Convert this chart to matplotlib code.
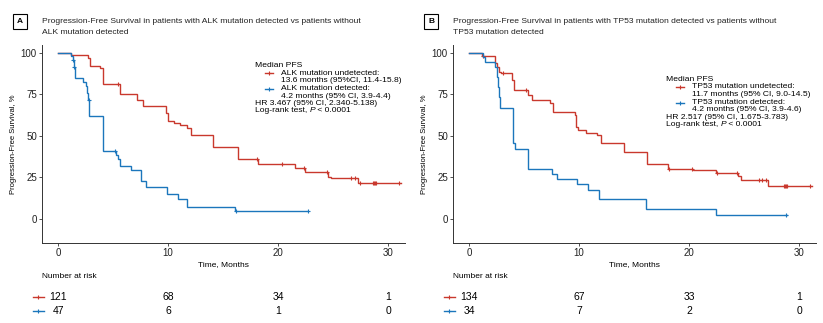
import numpy as np
import matplotlib.pyplot as plt

plt.rcParams['font.family'] = ['Liberation Sans', 'DejaVu Sans']

RED = '#C9382D'
BLUE = '#1B76BC'

W, H = 823, 323

# ---- panel A: ALK ----
alk_neg_t = [1.2, 2.7, 2.9, 3.8, 4.1, 5.6, 7.2, 7.7, 9.8, 10.0, 10.5, 11.1, 11.7, 12.1,
             14.1, 16.3, 18.2, 21.5, 22.4, 24.5, 24.8, 27.2]
alk_neg_s = [98.3, 96.5, 91.8, 90.6, 81.3, 75.0, 71.6, 67.8, 63.6, 58.7, 57.5, 56.5, 54.5, 50.5,
             43.5, 35.9, 32.9, 30.5, 28.1, 25.4, 24.5, 21.4]
alk_neg_cens = [5.45, 18.1, 20.3, 22.3, 24.4, 26.6, 27.0, 27.4, 28.6, 28.7, 28.8, 28.9, 31.0]
alk_neg_end = 31.1

alk_pos_t = [1.2, 1.35, 1.42, 1.5, 2.3, 2.5, 2.65, 2.75, 2.85, 4.06, 5.3, 5.45, 5.66, 6.63,
             7.55, 8.0, 9.9, 10.85, 11.7, 16.1]
alk_pos_s = [97.9, 95.7, 91.4, 84.6, 82.4, 80.2, 75.8, 71.4, 62.1, 41.1, 38.7, 35.9, 31.9, 29.3,
             22.9, 19.4, 14.8, 11.8, 7.0, 4.8]
alk_pos_cens = [1.38, 1.46, 2.8, 5.2, 16.15, 22.7]
alk_pos_end = 22.7

alk_risk_neg = [121, 68, 34, 1]
alk_risk_pos = [47, 6, 1, 0]

# ---- panel B: TP53 ----
tp53_neg_t = [1.15, 2.36, 2.5, 2.7, 2.9, 3.9, 4.05, 5.4, 5.7, 7.35, 7.65, 9.6, 9.75, 9.85,
              10.6, 11.6, 11.97, 14.1, 16.2, 18.1, 20.3, 22.45, 24.4, 24.7, 27.1]
tp53_neg_s = [98.0, 94.0, 91.6, 88.6, 87.6, 83.6, 77.6, 74.6, 71.6, 69.9, 64.5, 62.5, 55.5, 53.5,
              51.9, 50.5, 45.5, 40.0, 33.0, 30.0, 29.2, 27.9, 25.9, 23.4, 19.8]
tp53_neg_cens = [1.25, 3.1, 5.2, 18.15, 20.2, 22.5, 24.3, 26.3, 26.6, 27.0, 28.6, 28.7, 28.8,
                 28.9, 31.0]
tp53_neg_end = 31.1

tp53_pos_t = [1.3, 1.45, 2.4, 2.5, 2.6, 2.7, 2.8, 3.96, 4.2, 5.4, 7.5, 7.95, 9.76, 10.8, 11.8,
              16.05, 22.45]
tp53_pos_s = [97.1, 94.1, 91.2, 85.3, 79.4, 73.5, 66.5, 45.5, 41.9, 29.9, 27.1, 23.9, 21.0, 17.4,
              11.8, 5.8, 2.4]
tp53_pos_cens = [28.8]
tp53_pos_end = 28.9

tp53_risk_neg = [134, 67, 33, 1]
tp53_risk_pos = [34, 7, 2, 0]

risk_times = [0, 10, 20, 30]


def fig_xy(px, py):
    return px / W, 1 - py / H


def km(ax, t, s, cens, end, color):
    tt = np.r_[0, t, end]
    ss = np.r_[100, s, s[-1]]
    ax.step(tt, ss, where='post', color=color, lw=1.0, solid_joinstyle='miter')
    idx = np.searchsorted(tt, cens, side='right') - 1
    ax.plot(cens, ss[idx], ls='none', marker='+', ms=3.5, mew=0.8, color=color)


def panel(left_px, letter, title, neg, pos, risk_neg, risk_pos, legend_txt, leg_top):
    # main axes
    x0, y0 = fig_xy(left_px, 243.3)
    ax = fig.add_axes([x0, y0, 363.3 / W, 198.3 / H])
    km(ax, *neg, RED)
    km(ax, *pos, BLUE)
    ax.set_xlim(-1.48, 31.5)
    ax.set_ylim(-14.6, 104.6)
    ax.set_xticks([0, 10, 20, 30])
    ax.set_yticks([0, 25, 50, 75, 100])
    for sp in ['top', 'right']:
        ax.spines[sp].set_visible(False)
    for sp in ['left', 'bottom']:
        ax.spines[sp].set_linewidth(0.7)
        ax.spines[sp].set_color('#333333')
    ax.tick_params(labelsize=7, length=2.5, width=0.6, pad=1, colors='#333333', labelcolor='#222222')
    ax.set_xlabel('Time, Months', fontsize=6, labelpad=2)
    ax.set_ylabel('Progression-Free Survival, %', fontsize=5.5, labelpad=3)

    # legend block
    def ay(py):
        return (243.3 - py) / 198.3

    def axx(px):
        return (px - left_px) / 363.3

    lx = left_px + 213.3
    kx = left_px + 227
    tx = left_px + 239
    fs = 6.1
    ax.text(axx(lx), ay(leg_top), 'Median PFS', transform=ax.transAxes, fontsize=fs, va='center')
    rows = [(leg_top + 7.6, legend_txt[0], RED), (leg_top + 23.3, legend_txt[2], BLUE)]
    for py, txt, c in rows:
        ax.plot([axx(kx - 4), axx(kx + 4)], [ay(py), ay(py)], color=c, lw=1.0, transform=ax.transAxes)
        ax.plot([axx(kx)], [ay(py)], marker='+', ms=3.5, mew=0.8, color=c, transform=ax.transAxes)
        ax.text(axx(tx), ay(py), txt, transform=ax.transAxes, fontsize=fs, va='center')
    ax.text(axx(tx), ay(leg_top + 15), legend_txt[1], transform=ax.transAxes, fontsize=fs, va='center')
    ax.text(axx(tx), ay(leg_top + 30.6), legend_txt[3], transform=ax.transAxes, fontsize=fs, va='center')
    ax.text(axx(lx), ay(leg_top + 38), legend_txt[4], transform=ax.transAxes, fontsize=fs, va='center')

    # log-rank line: plain text, italic P, plain text
    renderer = fig.canvas.get_renderer()
    px = lx
    for part, style in [('Log-rank test, ', 'normal'), ('P', 'italic'), (' < 0.0001', 'normal')]:
        t = ax.text(axx(px), ay(leg_top + 45.3), part, transform=ax.transAxes, fontsize=fs,
                    va='center', fontstyle=style)
        px += t.get_window_extent(renderer).width

    # title and letter box
    bx, by = fig_xy(left_px - 21.7, 21.7)
    fig.text(bx, by, letter, fontsize=6, fontweight='bold', ha='center', va='center',
             bbox=dict(boxstyle='square,pad=0.45', fc='white', ec='black', lw=0.8))
    tx0, ty0 = fig_xy(left_px, 21.7)
    fig.text(tx0, ty0, title[0], fontsize=6.1, va='center', color='#222222')
    tx1, ty1 = fig_xy(left_px, 32.3)
    fig.text(tx1, ty1, title[1], fontsize=6.1, va='center', color='#222222')

    # number at risk table
    rx, ry = fig_xy(left_px, 318)
    rax = fig.add_axes([rx, ry, 363.3 / W, 52 / H])
    rax.set_xlim(-1.48, 31.5)
    rax.set_ylim(318, 266)
    rax.axis('off')
    rax.text(-1.48, 276.7, 'Number at risk', fontsize=6, va='center')
    for py, vals, c in [(296.7, risk_neg, RED), (310.7, risk_pos, BLUE)]:
        rax.plot([-2.3, -1.3], [py, py], color=c, lw=1.0, clip_on=False)
        rax.plot([-1.8], [py], marker='+', ms=3.5, mew=0.8, color=c, clip_on=False)
        for t, v in zip(risk_times, vals):
            rax.text(t, py, str(v), fontsize=7.5, ha='center', va='center')
    return ax


fig = plt.figure(figsize=(W / 100, H / 100), dpi=100)

panel(41.7, 'A',
      ['Progression-Free Survival in patients with ALK mutation detected vs patients without',
       'ALK mutation detected'],
      (alk_neg_t, alk_neg_s, alk_neg_cens, alk_neg_end),
      (alk_pos_t, alk_pos_s, alk_pos_cens, alk_pos_end),
      alk_risk_neg, alk_risk_pos,
      ['ALK mutation undetected:', '13.6 months (95%CI, 11.4-15.8)',
       'ALK mutation detected:', '4.2 months (95% CI, 3.9-4.4)',
       'HR 3.467 (95% CI, 2.340-5.138)'],
      65.7)

panel(452.7, 'B',
      ['Progression-Free Survival in patients with TP53 mutation detected vs patients without',
       'TP53 mutation detected'],
      (tp53_neg_t, tp53_neg_s, tp53_neg_cens, tp53_neg_end),
      (tp53_pos_t, tp53_pos_s, tp53_pos_cens, tp53_pos_end),
      tp53_risk_neg, tp53_risk_pos,
      ['TP53 mutation undetected:', '11.7 months (95% CI, 9.0-14.5)',
       'TP53 mutation detected:', '4.2 months (95% CI, 3.9-4.6)',
       'HR 2.517 (95% CI, 1.675-3.783)'],
      79.3)

fig.savefig('out.png', dpi=100)
